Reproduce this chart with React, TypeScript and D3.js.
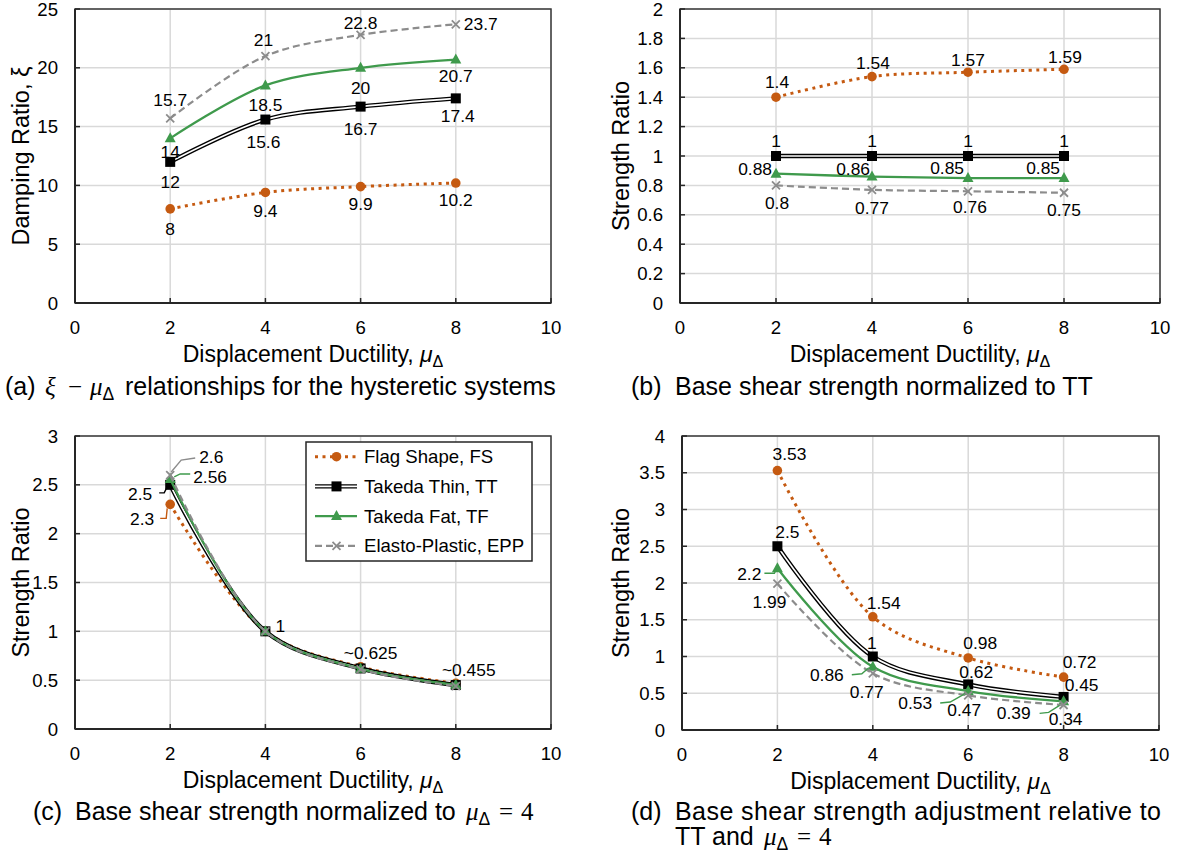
import React from "react";
import * as d3 from "d3";

// x values shared by every panel
const ductility = [2, 4, 6, 8];
const xTicks = [0, 2, 4, 6, 8, 10];
const seriesNames = ["Flag Shape, FS", "Takeda Thin, TT", "Takeda Fat, TF", "Elasto-Plastic, EPP"];

// (a) damping ratio
const dampingFS = [8, 9.4, 9.9, 10.2];
const dampingTT = [12, 15.6, 16.7, 17.4];
const dampingTF = [14, 18.5, 20, 20.7];
const dampingEPP = [15.7, 21, 22.8, 23.7];
const yTicksA = [0, 5, 10, 15, 20, 25];

// (b) strength normalized to TT
const toTTFS = [1.4, 1.54, 1.57, 1.59];
const toTTTT = [1, 1, 1, 1];
const toTTTF = [0.88, 0.86, 0.85, 0.85];
const toTTEPP = [0.8, 0.77, 0.76, 0.75];
const yTicksB = [0, 0.2, 0.4, 0.6, 0.8, 1, 1.2, 1.4, 1.6, 1.8, 2];

// (c) strength normalized to mu = 4
const toMuFS = [2.3, 1, 0.636, 0.468];
const toMuTT = [2.5, 1, 0.62, 0.45];
const toMuTF = [2.56, 1, 0.616, 0.453];
const toMuEPP = [2.6, 1, 0.61, 0.44];
const yTicksC = [0, 0.5, 1, 1.5, 2, 2.5, 3];
const labelTextsC = ["2.6", "2.56", "2.5", "2.3", "1", "~0.625", "~0.455"];

// (d) adjustment relative to TT and mu = 4
const adjFS = [3.53, 1.54, 0.98, 0.72];
const adjTT = [2.5, 1, 0.62, 0.45];
const adjTF = [2.2, 0.86, 0.53, 0.39];
const adjEPP = [1.99, 0.77, 0.47, 0.34];
const yTicksD = [0, 0.5, 1, 1.5, 2, 2.5, 3, 3.5, 4];

const FONT = "'Liberation Sans', Arial, sans-serif";
const MATH = "'Liberation Serif', 'DejaVu Serif', serif";
const ORANGE = "#C55A11";
const GREEN = "#3F9A4C";
const GREY = "#8C8C8C";
const colors = [ORANGE, "#000000", GREEN, GREY];

type Label = { s: number; i: number; dx: number; dy: number; anchor?: string; text?: string; leader?: number[][] };

const fmt = (v: number) => String(+v.toFixed(3));

// label placement (offsets from the point, px)
const labelsA: Label[] = [
  { s: 0, i: 0, dx: 0, dy: 20 }, { s: 0, i: 1, dx: 0, dy: 18 }, { s: 0, i: 2, dx: 0, dy: 17 }, { s: 0, i: 3, dx: 0, dy: 17 },
  { s: 1, i: 0, dx: 0, dy: 20 }, { s: 1, i: 1, dx: -2, dy: 22 }, { s: 1, i: 2, dx: 0, dy: 22 }, { s: 1, i: 3, dx: 2, dy: 18 },
  { s: 2, i: 0, dx: 0, dy: 14 }, { s: 2, i: 1, dx: 0, dy: 19 }, { s: 2, i: 2, dx: 0, dy: 20 }, { s: 2, i: 3, dx: 0, dy: 16 },
  { s: 3, i: 0, dx: 0, dy: -18 }, { s: 3, i: 1, dx: -2, dy: -16 }, { s: 3, i: 2, dx: 0, dy: -12 }, { s: 3, i: 3, dx: 8, dy: 0, anchor: "start" },
];
const labelsB: Label[] = [
  { s: 0, i: 0, dx: 1, dy: -15 }, { s: 0, i: 1, dx: 1, dy: -14 }, { s: 0, i: 2, dx: 0, dy: -12 }, { s: 0, i: 3, dx: 1, dy: -12 },
  { s: 1, i: 0, dx: 0, dy: -15 }, { s: 1, i: 1, dx: 0, dy: -15 }, { s: 1, i: 2, dx: 0, dy: -15 }, { s: 1, i: 3, dx: 0, dy: -15 },
  { s: 2, i: 0, dx: -4, dy: -5, anchor: "end" }, { s: 2, i: 1, dx: -2, dy: -8, anchor: "end" },
  { s: 2, i: 2, dx: -4, dy: -10, anchor: "end" }, { s: 2, i: 3, dx: -4, dy: -10, anchor: "end" },
  { s: 3, i: 0, dx: 1, dy: 18 }, { s: 3, i: 1, dx: 0, dy: 18 }, { s: 3, i: 2, dx: 2, dy: 16 }, { s: 3, i: 3, dx: 0, dy: 17 },
];
const labelsC: Label[] = [
  { s: 3, i: 0, dx: 29, dy: -18, anchor: "start", leader: [[1, -3], [11, -15], [25, -17]] },
  { s: 2, i: 0, dx: 23, dy: -2, anchor: "start", leader: [[4, -2], [10, -5], [20, -5]] },
  { s: 1, i: 0, dx: -18, dy: 9, anchor: "end", leader: [[-11, 8], [-6, 8], [-3, 2]] },
  { s: 0, i: 0, dx: -16, dy: 15, anchor: "end", leader: [[-10, 14], [-4, 14], [-3, 4]] },
  { s: 1, i: 1, dx: 10, dy: -5, anchor: "start" },
  { s: 0, i: 2, dx: 10, dy: -14 },
  { s: 0, i: 3, dx: 13, dy: -13 },
].map((l, k) => ({ ...l, text: labelTextsC[k] }));
const labelsD: Label[] = [
  { s: 0, i: 0, dx: 12, dy: -17 }, { s: 0, i: 1, dx: 11, dy: -14 }, { s: 0, i: 2, dx: 12, dy: -15 }, { s: 0, i: 3, dx: 16, dy: -15 },
  { s: 1, i: 0, dx: 10, dy: -14 }, { s: 1, i: 1, dx: -1, dy: -14 }, { s: 1, i: 2, dx: 8, dy: -13 }, { s: 1, i: 3, dx: 18, dy: -12 },
  { s: 2, i: 0, dx: -16, dy: 6, anchor: "end", leader: [[-13, 5], [-3, 5], [-1, 1]] },
  { s: 2, i: 1, dx: -29, dy: 8, anchor: "end", leader: [[-21, 8], [-11, 7], [-4, 1]] },
  { s: 2, i: 2, dx: -36, dy: 12, anchor: "end", leader: [[-28, 12], [-18, 11], [-4, 3]] },
  { s: 2, i: 3, dx: -33, dy: 12, anchor: "end", leader: [[-24, 12], [-15, 11], [-4, 4]] },
  { s: 3, i: 0, dx: -8, dy: 18 }, { s: 3, i: 1, dx: -6, dy: 19 }, { s: 3, i: 2, dx: -4, dy: 14 }, { s: 3, i: 3, dx: 2, dy: 14 },
];

const Marker = ({ s, x, y }: { s: number; x: number; y: number }) => {
  if (s === 0) return <circle cx={x} cy={y} r={4.8} fill={ORANGE} />;
  if (s === 1) return <rect x={x - 5} y={y - 5} width={10} height={10} fill="#000" />;
  if (s === 2) return <path d={`M${x},${y - 6}L${x + 5.5},${y + 4}L${x - 5.5},${y + 4}Z`} fill={GREEN} />;
  return (
    <path d={`M${x - 4},${y - 4}L${x + 4},${y + 4}M${x + 4},${y - 4}L${x - 4},${y + 4}`} stroke={GREY} strokeWidth={1.8} />
  );
};

const SeriesLine = ({ s, d }: { s: number; d: string }) => {
  if (s === 0) return <path d={d} fill="none" stroke={ORANGE} strokeWidth={3} strokeDasharray="3,4.5" />;
  if (s === 1)
    return (
      <g>
        <path d={d} fill="none" stroke="#000" strokeWidth={4.4} />
        <path d={d} fill="none" stroke="#fff" strokeWidth={1.6} />
      </g>
    );
  if (s === 2) return <path d={d} fill="none" stroke={GREEN} strokeWidth={2.3} />;
  return <path d={d} fill="none" stroke={GREY} strokeWidth={2.2} strokeDasharray="7,4" />;
};

const MuTitle = () => (
  <>
    <tspan fontStyle="italic">μ</tspan>
    <tspan fontSize="0.7em" dy={5}>Δ</tspan>
  </>
);

type PanelProps = {
  left: number; right: number; top: number; bottom: number;
  yTicks: number[]; yTitle: React.ReactNode; yTitleX: number;
  series: number[][]; labels: Label[]; legend?: boolean;
};

const Panel = ({ left, right, top, bottom, yTicks, yTitle, yTitleX, series, labels, legend }: PanelProps) => {
  const x = d3.scaleLinear().domain([0, 10]).range([left, right]);
  const y = d3.scaleLinear().domain([0, yTicks[yTicks.length - 1]]).range([bottom, top]);
  const line = d3
    .line<number>()
    .x((_, i) => x(ductility[i]))
    .y((v) => y(v))
    .curve(d3.curveCatmullRom.alpha(0.5));

  return (
    <g fontFamily={FONT}>
      {yTicks.map((t) => (
        <line key={"gy" + t} x1={left} x2={right} y1={y(t)} y2={y(t)} stroke="#D9D9D9" strokeWidth={1.5} />
      ))}
      {xTicks.map((t) => (
        <line key={"gx" + t} x1={x(t)} x2={x(t)} y1={top} y2={bottom} stroke="#D9D9D9" strokeWidth={1.5} />
      ))}
      <rect x={left} y={top} width={right - left} height={bottom - top} fill="none" stroke="#3A3A3A" strokeWidth={1.5} />
      <line x1={left} x2={left} y1={top} y2={bottom} stroke="#262626" strokeWidth={2} />
      <line x1={left} x2={right} y1={bottom} y2={bottom} stroke="#262626" strokeWidth={2} />
      {yTicks.map((t) => (
        <line key={"ty" + t} x1={left} x2={left + 5} y1={y(t)} y2={y(t)} stroke="#262626" strokeWidth={1.5} />
      ))}
      {xTicks.map((t) => (
        <line key={"tx" + t} x1={x(t)} x2={x(t)} y1={bottom} y2={bottom - 5} stroke="#262626" strokeWidth={1.5} />
      ))}
      {yTicks.map((t) => (
        <text key={"ly" + t} x={left - 17} y={y(t)} dy="0.35em" textAnchor="end" fontSize={18.6} fill="#000">
          {fmt(t)}
        </text>
      ))}
      {xTicks.map((t) => (
        <text key={"lx" + t} x={x(t)} y={bottom + 24} dy="0.35em" textAnchor="middle" fontSize={18.6} fill="#000">
          {t}
        </text>
      ))}
      <text x={(left + right) / 2} y={bottom + 59} textAnchor="middle" fontSize={23}>
        Displacement Ductility, <MuTitle />
      </text>
      <text
        transform={`translate(${yTitleX},${(top + bottom) / 2}) rotate(-90)`}
        textAnchor="middle"
        fontSize={23.5}
      >
        {yTitle}
      </text>

      {series.map((vals, s) => (
        <g key={"s" + s}>
          <SeriesLine s={s} d={line(vals) || ""} />
          {vals.map((v, i) => (
            <Marker key={i} s={s} x={x(ductility[i])} y={y(v)} />
          ))}
        </g>
      ))}

      {labels.map((l, k) => {
        const px = x(ductility[l.i]);
        const py = y(series[l.s][l.i]);
        return (
          <g key={"lab" + k}>
            {l.leader && (
              <polyline
                points={l.leader.map((p) => `${px + p[0]},${py + p[1]}`).join(" ")}
                fill="none"
                stroke={l.s === 1 ? "#000" : colors[l.s]}
                strokeWidth={1.4}
              />
            )}
            <text
              x={px + l.dx}
              y={py + l.dy}
              dy="0.35em"
              textAnchor={l.anchor || "middle"}
              fontSize={17.4}
              fill="#000"
            >
              {l.text ?? fmt(series[l.s][l.i])}
            </text>
          </g>
        );
      })}

      {legend && (
        <g>
          <rect x={306} y={442} width={226} height={119} fill="#fff" stroke="#262626" strokeWidth={1.5} />
          {seriesNames.map((name, s) => {
            const ly = 456.7 + s * 29.7;
            return (
              <g key={name}>
                <SeriesLine s={s} d={`M315,${ly}L357,${ly}`} />
                <Marker s={s} x={336.5} y={ly} />
                <text x={364} y={ly} dy="0.35em" fontSize={18.6}>
                  {name}
                </text>
              </g>
            );
          })}
        </g>
      )}
    </g>
  );
};

const captionStyle = { fontFamily: FONT, fontSize: 25 };

// italic mu with a small Delta subscript, optionally followed by "= 4" in math style
const MuEq = ({ x, y, eq }: { x: number; y: number; eq?: boolean }) => (
  <>
    <text x={x} y={y}>
      <tspan fontFamily={MATH} fontStyle="italic">μ</tspan>
      <tspan fontSize="0.7em" dy={5}>Δ</tspan>
    </text>
    {eq && (
      <>
        <text x={x + 40} y={y} fontFamily={MATH} textAnchor="middle">=</text>
        <text x={x + 55} y={y} fontFamily={MATH}>4</text>
      </>
    )}
  </>
);

export default function App() {
  return (
    <svg
      width={1177}
      height={860}
      style={{ position: "absolute", left: 0, top: 0, background: "#fff" }}
    >
      <rect width={1177} height={860} fill="#fff" />
      <Panel
        left={75} right={551} top={9} bottom={303}
        yTicks={yTicksA}
        yTitle={<>Damping Ratio, <tspan>ξ</tspan></>}
        yTitleX={29}
        series={[dampingFS, dampingTT, dampingTF, dampingEPP]}
        labels={labelsA}
      />
      <Panel
        left={680} right={1160} top={9} bottom={303}
        yTicks={yTicksB}
        yTitle="Strength Ratio"
        yTitleX={629}
        series={[toTTFS, toTTTT, toTTTF, toTTEPP]}
        labels={labelsB}
      />
      <Panel
        left={75} right={551} top={436} bottom={729}
        yTicks={yTicksC}
        yTitle="Strength Ratio"
        yTitleX={29}
        series={[toMuFS, toMuTT, toMuTF, toMuEPP]}
        labels={labelsC}
        legend
      />
      <Panel
        left={682} right={1159} top={436} bottom={730}
        yTicks={yTicksD}
        yTitle="Strength Ratio"
        yTitleX={629}
        series={[adjFS, adjTT, adjTF, adjEPP]}
        labels={labelsD}
      />

      <g style={captionStyle}>
        <text x={5} y={395}>(a)</text>
        <text x={45} y={395} fontFamily={MATH} fontStyle="italic">ξ</text>
        <text x={75} y={395} fontFamily={MATH} textAnchor="middle">−</text>
        <MuEq x={90} y={395} />
        <text x={125} y={395}>relationships for the hysteretic systems</text>

        <text x={631} y={395}>(b)</text>
        <text x={675} y={395}>Base shear strength normalized to TT</text>

        <text x={33} y={820}>(c)</text>
        <text x={75} y={820}>Base shear strength normalized to</text>
        <MuEq x={466} y={820} eq />

        <text x={631} y={820}>(d)</text>
        <text x={675} y={820} textLength={486} lengthAdjust="spacing">
          Base shear strength adjustment relative to
        </text>
        <text x={675} y={845}>TT and</text>
        <MuEq x={764} y={845} eq />
      </g>
    </svg>
  );
}
